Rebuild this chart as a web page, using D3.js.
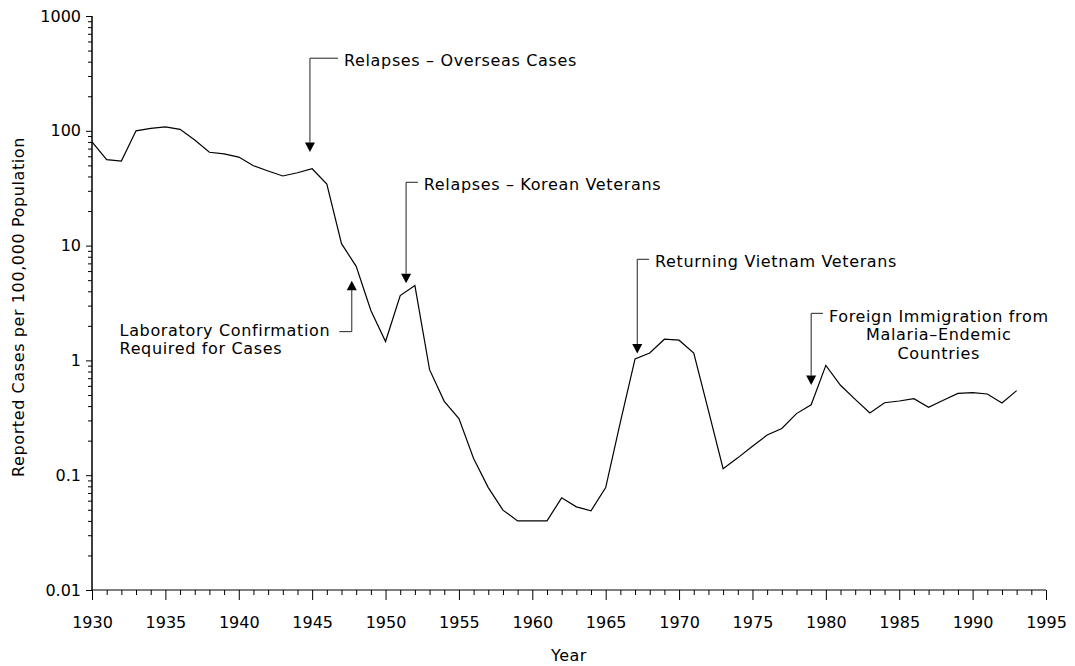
<!DOCTYPE html>
<html>
<head>
<meta charset="utf-8">
<script src="https://cdn.jsdelivr.net/npm/d3@7"></script>
<style>
  html, body { margin: 0; padding: 0; background: #fff; }
  svg { display: block; }
  text { font-family: "DejaVu Sans", sans-serif; fill: #000; }
</style>
</head>
<body>
<svg id="chart" width="1075" height="666"></svg>
<script>
// ---- Data ----
const years = [1930,1931,1932,1933,1934,1935,1936,1937,1938,1939,
               1940,1941,1942,1943,1944,1945,1946,1947,1948,1949,
               1950,1951,1952,1953,1954,1955,1956,1957,1958,1959,
               1960,1961,1962,1963,1964,1965,1966,1967,1968,1969,
               1970,1971,1972,1973,1974,1975,1976,1977,1978,1979,
               1980,1981,1982,1983,1984,1985,1986,1987,1988,1989,
               1990,1991,1992,1993];
const rates = [80, 56, 54.5, 100, 105, 108, 103, 83, 65, 63,
               59, 49.6, 44.7, 40.4, 43.1, 46.7, 34.4, 10.4, 6.6, 2.72,
               1.46, 3.67, 4.49, 0.83, 0.44, 0.311, 0.14, 0.078, 0.0496, 0.040,
               0.040, 0.040, 0.0635, 0.053, 0.049, 0.078, 0.29, 1.03, 1.16, 1.53,
               1.50, 1.16, 0.365, 0.114, 0.1416, 0.179, 0.224, 0.255, 0.344, 0.411,
               0.905, 0.607, 0.458, 0.348, 0.428, 0.443, 0.464, 0.39, 0.449, 0.516,
               0.523, 0.51, 0.425, 0.545];
const yTickValues = [0.01, 0.1, 1, 10, 100, 1000];
const yTickLabels = ["0.01", "0.1", "1", "10", "100", "1000"];
const xTickValues = [1930,1935,1940,1945,1950,1955,1960,1965,1970,1975,1980,1985,1990,1995];
const xLabel = "Year";
const yLabel = "Reported Cases per 100,000 Population";

// Annotations (anchored in data coordinates)
const annotations = [
  { lines: ["Relapses \u2013 Overseas Cases"], tipYear: 1944.85, tipValue: 65.4, elbowValue: 429, stubYear: 1946.76, dir: "down", side: "right" },
  { lines: ["Relapses \u2013 Korean Veterans"], tipYear: 1951.4, tipValue: 4.7, elbowValue: 35.6, stubYear: 1952.2, dir: "down", side: "right" },
  { lines: ["Returning Vietnam Veterans"], tipYear: 1967.15, tipValue: 1.15, elbowValue: 7.6, stubYear: 1967.95, dir: "down", side: "right" },
  { lines: ["Foreign Immigration from", "Malaria\u2013Endemic", "Countries"], tipYear: 1979.0, tipValue: 0.61, elbowValue: 2.57, stubYear: 1979.8, dir: "down", side: "right" },
  { lines: ["Laboratory Confirmation", "Required for Cases"], tipYear: 1947.7, tipValue: 4.95, elbowValue: 1.78, stubYear: 1946.85, dir: "up", side: "left" }
];

// ---- Chart ----
const svg = d3.select("#chart");
const x = d3.scaleLinear().domain([1930, 1995]).range([92, 1046]);
const y = d3.scaleLog().domain([0.01, 1000]).range([590, 16]);

// minor ticks
const yMinor = [];
for (let e = -2; e < 3; e++) for (let m = 2; m <= 9; m++) yMinor.push(m * Math.pow(10, e));
const xMinor = d3.range(1930, 1996).filter(v => v % 5 !== 0);

// Y axis
const gy = svg.append("g").attr("transform", `translate(${x(1930)},0)`);
gy.call(d3.axisLeft(y).tickValues(yMinor).tickSize(4).tickFormat(""));
gy.call(g => g.selectAll(".tick line").attr("stroke", "#000"));
const gy2 = svg.append("g").attr("transform", `translate(${x(1930)},0)`);
gy2.call(d3.axisLeft(y).tickValues(yTickValues).tickSize(6).tickPadding(5)
  .tickFormat((d, i) => yTickLabels[i]));
[gy, gy2].forEach(g => {
  g.select(".domain").attr("stroke", "#000").attr("d", `M0,${y(0.01)}V${y(1000)}`);
  g.selectAll("text").style("font-size", "16px").style("font-family", '"DejaVu Sans", sans-serif').attr("fill", "#000");
});

// X axis
const gx = svg.append("g").attr("transform", `translate(0,${y(0.01)})`);
gx.call(d3.axisBottom(x).tickValues(xMinor).tickSize(5).tickFormat(""));
gx.select(".domain").attr("stroke", "#000").attr("d", `M${x(1930)},0H${x(1995)}`);
const gx2 = svg.append("g").attr("transform", `translate(0,${y(0.01)})`);
gx2.call(d3.axisBottom(x).tickValues(xTickValues).tickSize(10).tickPadding(17).tickFormat(d3.format("d")));
gx2.select(".domain").remove();
[gx, gx2].forEach(g => {
  g.selectAll(".tick line").attr("stroke", "#000");
  g.selectAll("text").style("font-size", "16px").style("font-family", '"DejaVu Sans", sans-serif').attr("fill", "#000");
});

// Axis titles
svg.append("text")
  .attr("x", (x(1930) + x(1995)) / 2).attr("y", 661)
  .attr("text-anchor", "middle").style("font-size", "16px").style("letter-spacing", "0.5px")
  .text(xLabel);
svg.append("text")
  .attr("transform", `translate(23.5,${(y(0.01) + y(1000)) / 2 + 4}) rotate(-90)`)
  .attr("text-anchor", "middle").style("font-size", "16px").style("letter-spacing", "0.6px")
  .text(yLabel);

// Data line
const line = d3.line().x((d, i) => x(years[i])).y(d => y(d));
svg.append("path").datum(rates)
  .attr("d", line).attr("fill", "none").attr("stroke", "#000")
  .attr("stroke-width", 1.2).attr("stroke-linejoin", "miter");

// Annotations
const ag = svg.append("g");
const lineGap = 18.8;
annotations.forEach(a => {
  const tx = x(a.tipYear), ty = y(a.tipValue), ey = y(a.elbowValue), sx = x(a.stubYear);
  const ah = 9.5, aw = 5;
  const baseY = a.dir === "down" ? ty - ah : ty + ah;
  ag.append("path")
    .attr("d", `M${sx},${ey}H${tx}V${baseY}`)
    .attr("fill", "none").attr("stroke", "#222").attr("stroke-width", 1);
  ag.append("path")
    .attr("d", `M${tx - aw},${baseY}L${tx + aw},${baseY}L${tx},${ty}Z`)
    .attr("fill", "#000");
  const fs = 16, ls = 0.65;
  const texts = a.lines.map(t => ag.append("text")
    .style("font-size", fs + "px").style("letter-spacing", ls + "px").text(t));
  const w0 = texts[0].node().getComputedTextLength();
  if (a.side === "right") {
    const x0 = sx + 6;
    const cx = x0 + w0 / 2;
    texts.forEach((t, i) => {
      if (i === 0) t.attr("x", x0).attr("text-anchor", "start");
      else t.attr("x", cx).attr("text-anchor", "middle");
      t.attr("y", ey + 8.2 + i * lineGap);
    });
  } else {
    const xStart = sx - 9 - w0;
    texts.forEach((t, i) => t.attr("x", xStart).attr("y", ey + 4 + i * lineGap));
  }
});
</script>
</body>
</html>
